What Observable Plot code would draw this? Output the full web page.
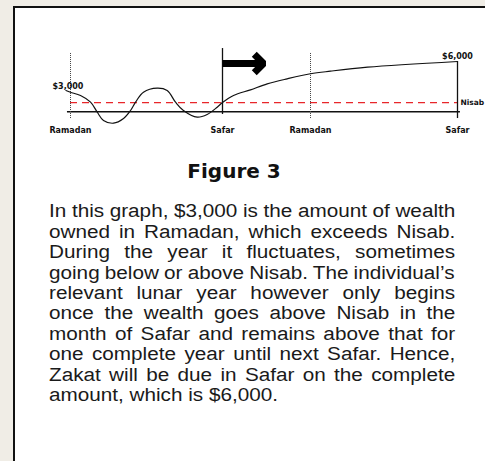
<!DOCTYPE html>
<html><head><meta charset="utf-8">
<script src="https://cdn.jsdelivr.net/npm/d3@7"></script>
<script src="https://cdn.jsdelivr.net/npm/@observablehq/plot@0.6"></script>
<style>
html,body{margin:0;padding:0;width:485px;height:461px;overflow:hidden;background:#f0ede6;}
#box{position:absolute;left:13px;top:6px;width:480px;height:470px;background:#fff;border-left:2px solid #111;border-top:2px solid #111;}
#chart{position:absolute;left:0;top:0;}
#title{position:absolute;left:234px;top:161px;transform:translateX(-50%);font:bold 20px/20px "DejaVu Sans";color:#111;white-space:nowrap;}
.line{position:absolute;left:49px;white-space:nowrap;font:18px/18px "Liberation Sans";color:#1a1a1a;transform-origin:0 0;}
</style></head><body>
<div id="box"></div>
<div id="chart"></div>
<div id="title">Figure 3</div>
<div id="para"></div>
<script>
// ---- data ----
const monthLabels = ["Ramadan", "Safar", "Ramadan", "Safar"];
const monthIndex = [0, 1, 2, 3];
const wealthMonth = [-0.03, 0, 0.066, 0.132, 0.176, 0.217, 0.283, 0.349, 0.395, 0.428, 0.48, 0.57, 0.636, 0.691, 0.743, 0.834, 0.899, 0.965, 1.0, 1.125, 1.318, 1.508, 1.735, 2.0, 2.136, 2.388, 3.0];
const wealthValue = [3000, 2820, 2480, 1790, 760, -100, -380, 100, 930, 1790, 2820, 3240, 3000, 1790, 930, 240, 520, 1270, 1750, 2480, 3070, 3690, 4210, 4730, 5000, 5410, 6000];
const nisabValue = 1750;
const baselineValue = 800;
const guideTop = [6930, 7340, 6930, 6000];
const guideBottom = [100, 520, 100, 100];
const arrowFrom = 1, arrowTo = 1.466, arrowValue = 5800;
const startLabel = "$3,000", endLabel = "$6,000", nisabLabel = "Nisab";
const titleText = "Figure 3";
const paragraphLines = [
  "In this graph, $3,000 is the amount of wealth",
  "owned in Ramadan, which exceeds Nisab.",
  "During the year it fluctuates, sometimes",
  "going below or above Nisab. The individual\u2019s",
  "relevant lunar year however only begins",
  "once the wealth goes above Nisab in the",
  "month of Safar and remains above that for",
  "one complete year until next Safar. Hence,",
  "Zakat will be due in Safar on the complete",
  "amount, which is $6,000."
];

// ---- chart ----
// schematic (uneven) spacing of the month markers along the axis
const warp = d3.scaleLinear().domain(monthIndex).range([0, 152, 240, 387]);
const tickPos = monthIndex.map(warp);
const wealth = wealthMonth.map((m, i) => ({x: warp(m), v: wealthValue[i]}));
const guides = monthIndex.map((m, i) => ({x: warp(m), label: monthLabels[i], top: guideTop[i], bottom: guideBottom[i]}));

const chart = Plot.plot({
  width: 485, height: 150,
  marginTop: 0, marginLeft: 0, marginRight: 0, marginBottom: 25,
  style: {background: "transparent", fontFamily: "DejaVu Sans", fontSize: "8px", fontWeight: "bold", color: "#111"},
  x: {type: "linear", domain: [0, 387], range: [70, 457]},
  y: {type: "linear", domain: [0, 6000], range: [119, 61], axis: null},
  marks: [
    Plot.ruleY([baselineValue], {x1: warp(-0.02), x2: warp(3.02), stroke: "#111", strokeWidth: 1.3}),
    Plot.ruleY([nisabValue], {x1: warp(0), x2: warp(3), stroke: "#e8262a", strokeWidth: 1.2, strokeDasharray: "7,5"}),
    Plot.ruleX(guides.filter(d => d.label === "Ramadan"), {x: "x", y1: "bottom", y2: "top", stroke: "#444", strokeDasharray: "1,1", strokeWidth: 1}),
    Plot.ruleX(guides.filter(d => d.label === "Safar"), {x: "x", y1: "bottom", y2: "top", stroke: "#111", strokeWidth: 1.3}),
    Plot.line(wealth, {x: "x", y: "v", curve: "catmull-rom", stroke: "#111", strokeWidth: 1.2}),
    Plot.arrow([{x1: warp(arrowFrom), x2: warp(arrowTo), y: arrowValue}], {x1: "x1", x2: "x2", y1: "y", y2: "y", stroke: "#000", strokeWidth: 7, headAngle: 90, headLength: 2.8, strokeLinejoin: "miter", strokeLinecap: "butt"}),
    Plot.text([startLabel], {x: wealth[0].x, y: wealth[0].v, text: d => d, lineAnchor: "bottom", dy: -2, dx: 2, fill: "#111"}),
    Plot.text([endLabel], {x: wealth[wealth.length - 1].x, y: wealth[wealth.length - 1].v, text: d => d, lineAnchor: "bottom", dy: -3, fill: "#111"}),
    Plot.text([nisabLabel], {x: warp(3), y: nisabValue, text: d => d, textAnchor: "start", dx: 3, fill: "#111", fontSize: 7.5}),
    Plot.axisX(tickPos, {tickFormat: v => monthLabels[tickPos.indexOf(v)], tickSize: 0, tickPadding: 2, label: null, fill: "#111"})
  ]
});
document.getElementById("chart").appendChild(chart);
document.getElementById("title").textContent = titleText;

// ---- paragraph ----
const s = 1.15, targetW = 406, baseline0 = 217.7, lineStep = 20.4;
const para = document.getElementById("para");
paragraphLines.forEach((txt, i) => {
  const d = document.createElement("div");
  d.className = "line";
  d.textContent = txt;
  d.style.top = (baseline0 + i * lineStep - 15.24) + "px";
  para.appendChild(d);
  const nat = d.offsetWidth;
  const spaces = (txt.match(/ /g) || []).length;
  if (i < paragraphLines.length - 1 && spaces) d.style.wordSpacing = ((targetW / s - nat) / spaces) + "px";
  d.style.transform = `scaleX(${s})`;
});
</script>
</body></html>
